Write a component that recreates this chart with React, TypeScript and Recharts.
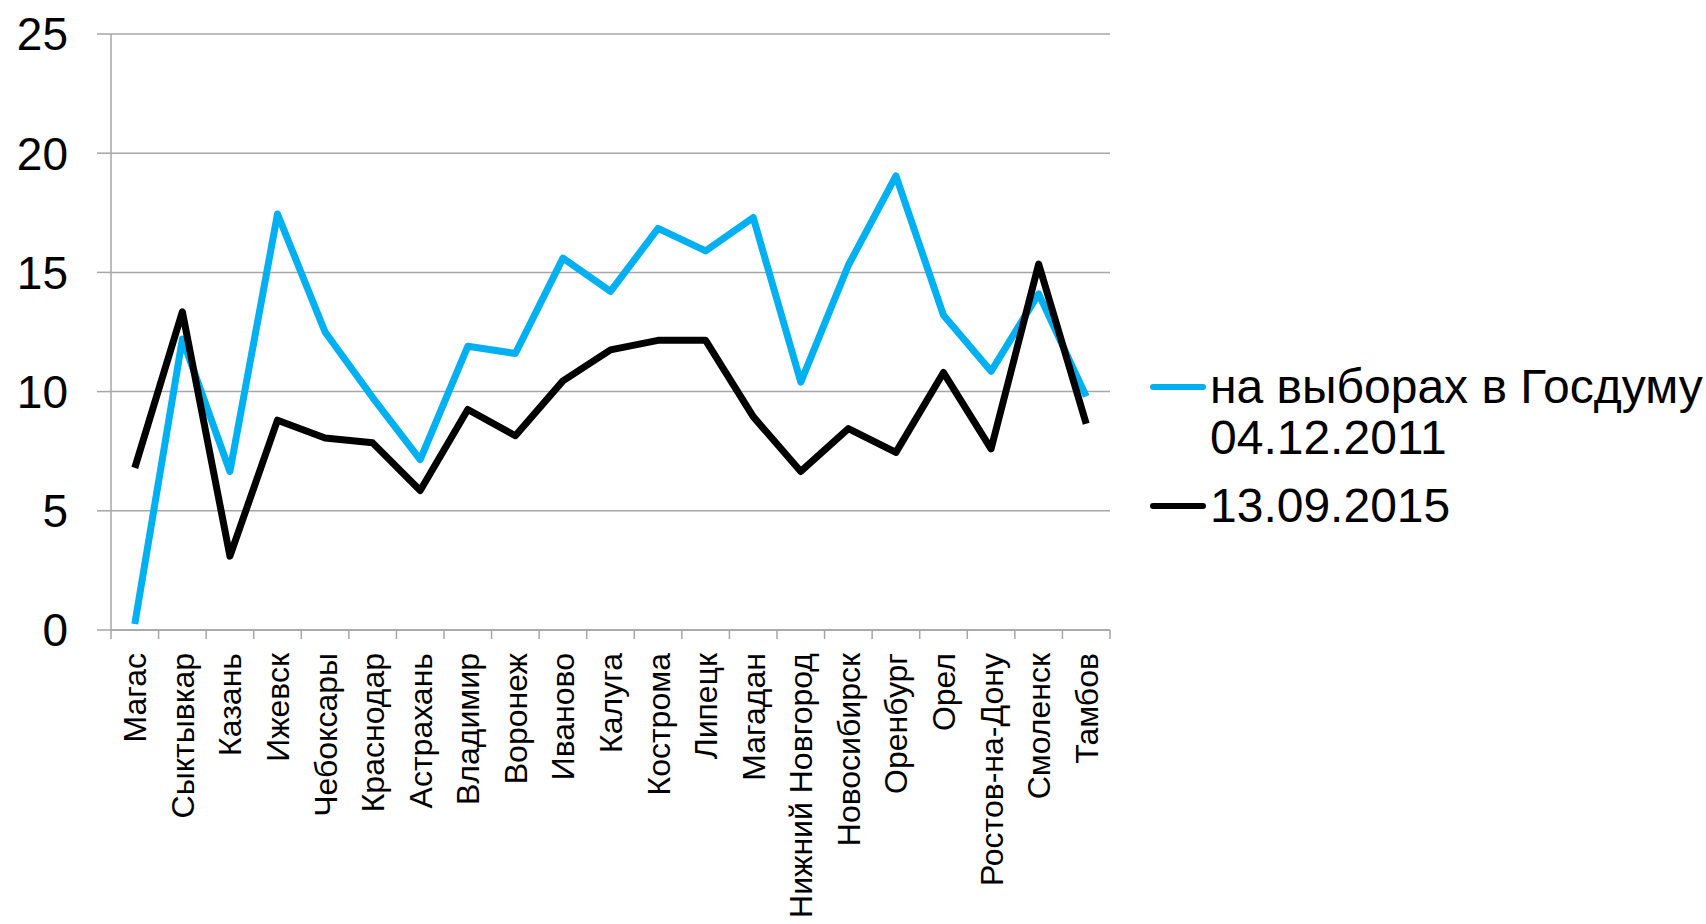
import { LineChart, Line, XAxis, YAxis, CartesianGrid, Legend } from "recharts"

const cities = [
  "Магас", "Сыктывкар", "Казань", "Ижевск", "Чебоксары", "Краснодар", "Астрахань",
  "Владимир", "Воронеж", "Иваново", "Калуга", "Кострома", "Липецк", "Магадан",
  "Нижний Новгород", "Новосибирск", "Оренбург", "Орел", "Ростов-на-Дону", "Смоленск", "Тамбов",
]
const duma2011 = [
  0.25, 12.2, 6.65, 17.45, 12.5, 9.75, 7.15, 11.9, 11.6, 15.6, 14.2,
  16.85, 15.9, 17.3, 10.4, 15.3, 19.05, 13.2, 10.85, 14.1, 9.8,
]
const vote2015 = [
  6.8, 13.35, 3.1, 8.8, 8.05, 7.85, 5.85, 9.25, 8.15, 10.45, 11.75,
  12.15, 12.15, 8.95, 6.65, 8.45, 7.45, 10.8, 7.6, 15.35, 8.65,
]
const yTicks = [0, 5, 10, 15, 20, 25]
const seriesNames = ["на выборах в Госдуму 04.12.2011", "13.09.2015"]

const data = cities.map((city, i) => ({ city, a: duma2011[i], b: vote2015[i] }))

const W = 1706
const H = 924
const LEFT = 111
const RIGHT = 596
const FONT = '"Liberation Sans", Arial, sans-serif'
const GRID = "#a6a6a6"
const BAND = (W - LEFT - RIGHT) / cities.length

function CityTick(props: any) {
  const { x, y, payload, index } = props
  const left = x - BAND / 2
  return (
    <g>
      <line x1={left} y1={y} x2={left} y2={y + 9} stroke={GRID} strokeWidth={1.5} />
      {index === cities.length - 1 && (
        <line x1={left + BAND} y1={y} x2={left + BAND} y2={y + 9} stroke={GRID} strokeWidth={1.5} />
      )}
      <g transform={`translate(${x},${y + 23})`}>
        <text transform="rotate(-90)" textAnchor="end" dy="0.36em" fontSize={32} fill="#000" fontFamily={FONT}>
          {payload.value}
        </text>
      </g>
    </g>
  )
}

function SideLegend() {
  const colors = ["#00b0f0", "#000000"]
  return (
    <div style={{ fontFamily: FONT, fontSize: 48, lineHeight: "51px", color: "#000" }}>
      {seriesNames.map((name, i) => (
        <div key={name} style={{ display: "flex", alignItems: "flex-start", marginBottom: 17 }}>
          <div style={{ width: 60, height: 51, display: "flex", alignItems: "center", flexShrink: 0 }}>
            <div style={{ width: 56, height: 6, borderRadius: 3, background: colors[i] }} />
          </div>
          <div style={{ width: 500, whiteSpace: "normal" }}>{name}</div>
        </div>
      ))}
    </div>
  )
}

export default function App() {
  return (
    <div style={{ width: W, height: H, background: "#fff" }}>
      <style>{"body{margin:0}"}</style>
      <LineChart width={W} height={H} data={data} margin={{ top: 34, right: RIGHT, bottom: 0, left: 0 }}>
        <CartesianGrid vertical={false} stroke={GRID} strokeWidth={1.5} />
        <XAxis
          dataKey="city"
          height={294}
          interval={0}
          padding={{ left: BAND / 2, right: BAND / 2 }}
          tickLine={false}
          tickSize={0}
          tickMargin={0}
          axisLine={{ stroke: GRID, strokeWidth: 1.5 }}
          tick={<CityTick />}
        />
        <YAxis
          width={LEFT}
          domain={[0, 25]}
          ticks={yTicks}
          tickSize={14}
          tickMargin={29}
          tickLine={{ stroke: GRID, strokeWidth: 1.5 }}
          axisLine={{ stroke: GRID, strokeWidth: 1.5 }}
          tick={{ fontSize: 46, fill: "#000", fontFamily: FONT }}
        />
        <Legend
          layout="horizontal"
          align="center"
          verticalAlign="middle"
          content={<SideLegend />}
          wrapperStyle={{ position: "absolute", left: 1150, top: 361, width: 556, height: "auto" }}
        />
        <Line dataKey="a" name={seriesNames[0]} stroke="#00b0f0" strokeWidth={7} dot={false} isAnimationActive={false} strokeLinejoin="round" />
        <Line dataKey="b" name={seriesNames[1]} stroke="#000000" strokeWidth={7} dot={false} isAnimationActive={false} strokeLinejoin="round" />
      </LineChart>
    </div>
  )
}
